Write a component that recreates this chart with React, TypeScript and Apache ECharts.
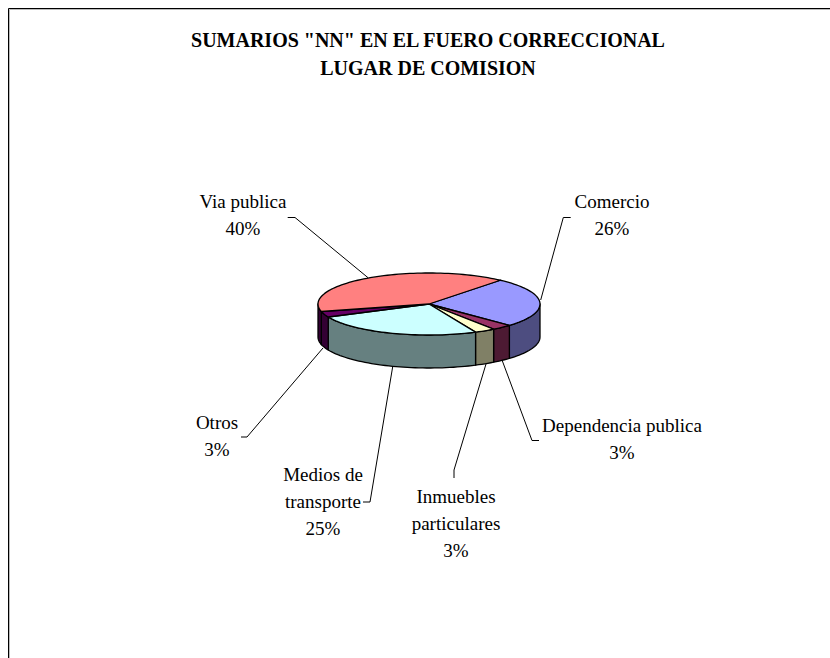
import React, { useEffect, useRef } from "react";
import * as echarts from "echarts";

const titleLines = ['SUMARIOS "NN" EN EL FUERO CORRECCIONAL', "LUGAR DE COMISION"];
const categories = ["Comercio", "Dependencia publica", "Inmuebles particulares", "Medios de transporte", "Otros", "Via publica"];
const displayNames = ["Comercio", "Dependencia publica", "Inmuebles\nparticulares", "Medios de\ntransporte", "Otros", "Via publica"];
const percentages = [26, 3, 3, 25, 3, 40];
const topColors = ["#9999FF", "#993366", "#FFFFCC", "#CCFFFF", "#660066", "#FF8080"];
const sideColors = ["#4D4D80", "#4D1A33", "#808066", "#668080", "#330033", "#330033"];

const FONT = '"Liberation Serif", "Times New Roman", serif';
const pie = { cx: 429, cy: 304, rx: 111, ry: 31, depth: 33, startDeg: 40 };
const labelCenters = [
  [612, 214.5], [622, 438.5], [456, 523.5], [323, 501], [217, 435.5], [243, 214.5],
];
const leaders = [
  [[570.7, 217.5], [563.3, 217.5], [540.7, 300]],
  [[539, 440.5], [532, 440.5], [502, 360]],
  [[454, 478], [454, 470], [486, 364]],
  [[363, 502], [370, 502], [392.7, 366.7]],
  [[241, 437], [247, 437], [323, 348]],
  [[287.7, 217.5], [295, 217.5], [368, 277.7]],
];

const point = (deg: number, dy = 0) => {
  const a = (deg * Math.PI) / 180;
  return [pie.cx + pie.rx * Math.sin(a), pie.cy - pie.ry * Math.cos(a) + dy];
};
const arc = (from: number, to: number, dy = 0) => {
  const pts: number[][] = [];
  const n = Math.max(1, Math.ceil((to - from) / 2));
  for (let i = 0; i <= n; i++) pts.push(point(from + ((to - from) * i) / n, dy));
  return pts;
};

export default function App() {
  const ref = useRef<HTMLDivElement>(null);
  useEffect(() => {
    const chart = echarts.init(ref.current!, null, { renderer: "svg" });
    const total = percentages.reduce((a, b) => a + b, 0);
    const starts: number[] = [];
    let acc = pie.startDeg;
    percentages.forEach((v) => {
      starts.push(acc);
      acc += (v / total) * 360;
    });
    const stroke = { stroke: "#000", lineWidth: 1.3, lineJoin: "round" };
    const renderWall = (_p: any, api: any) => {
      const i = _p.dataIndex;
      const from = starts[i];
      const to = from + (api.value(0) / total) * 360;
      const a = Math.max(from, 90);
      const b = Math.min(to, 270);
      if (b <= a) return { type: "group", children: [] };
      return {
        type: "polygon",
        shape: { points: [...arc(a, b), ...arc(a, b, pie.depth).reverse()] },
        style: { fill: sideColors[i], ...stroke },
      };
    };
    const renderTop = (_p: any, api: any) => {
      const i = _p.dataIndex;
      const from = starts[i];
      const to = from + (api.value(0) / total) * 360;
      return {
        type: "polygon",
        shape: { points: [[pie.cx, pie.cy], ...arc(from, to)] },
        style: { fill: topColors[i], ...stroke },
      };
    };
    const renderLabel = (_p: any, api: any) => {
      const i = _p.dataIndex;
      return {
        type: "group",
        children: [
          {
            type: "polyline",
            shape: { points: leaders[i] },
            style: { fill: "none", stroke: "#000", lineWidth: 1 },
          },
          {
            type: "text",
            style: {
              text: `${displayNames[i]}\n${api.value(0)}%`,
              x: labelCenters[i][0],
              y: labelCenters[i][1],
              align: "center",
              verticalAlign: "middle",
              fontFamily: FONT,
              fontSize: 19,
              lineHeight: 27,
              fill: "#000",
            },
          },
        ],
      };
    };
    const data = percentages.map((v, i) => ({ name: categories[i], value: [v] }));
    chart.setOption({
      animation: false,
      backgroundColor: "#fff",
      title: {
        text: titleLines.join("\n"),
        left: 423,
        top: 21,
        textAlign: "center",
        textStyle: { fontFamily: FONT, fontSize: 20, fontWeight: "bold", color: "#000", lineHeight: 28 },
      },
      graphic: [
        { type: "polyline", shape: { points: [[9.5, 700], [9.5, 9.5], [900, 9.5]] }, style: { fill: "none", stroke: "#bbb", lineWidth: 1 } },
        { type: "polyline", shape: { points: [[8.5, 700], [8.5, 8.5], [900, 8.5]] }, style: { fill: "none", stroke: "#000", lineWidth: 1 } },
      ],
      series: [
        { type: "custom", coordinateSystem: "none", renderItem: renderWall, data, z: 2, silent: true },
        { type: "custom", coordinateSystem: "none", renderItem: renderTop, data, z: 3, silent: true },
        { type: "custom", coordinateSystem: "none", renderItem: renderLabel, data, z: 4, silent: true },
      ],
    });
    return () => chart.dispose();
  }, []);
  return <div ref={ref} style={{ position: "fixed", left: 0, top: 0, width: 830, height: 658 }} />;
}
